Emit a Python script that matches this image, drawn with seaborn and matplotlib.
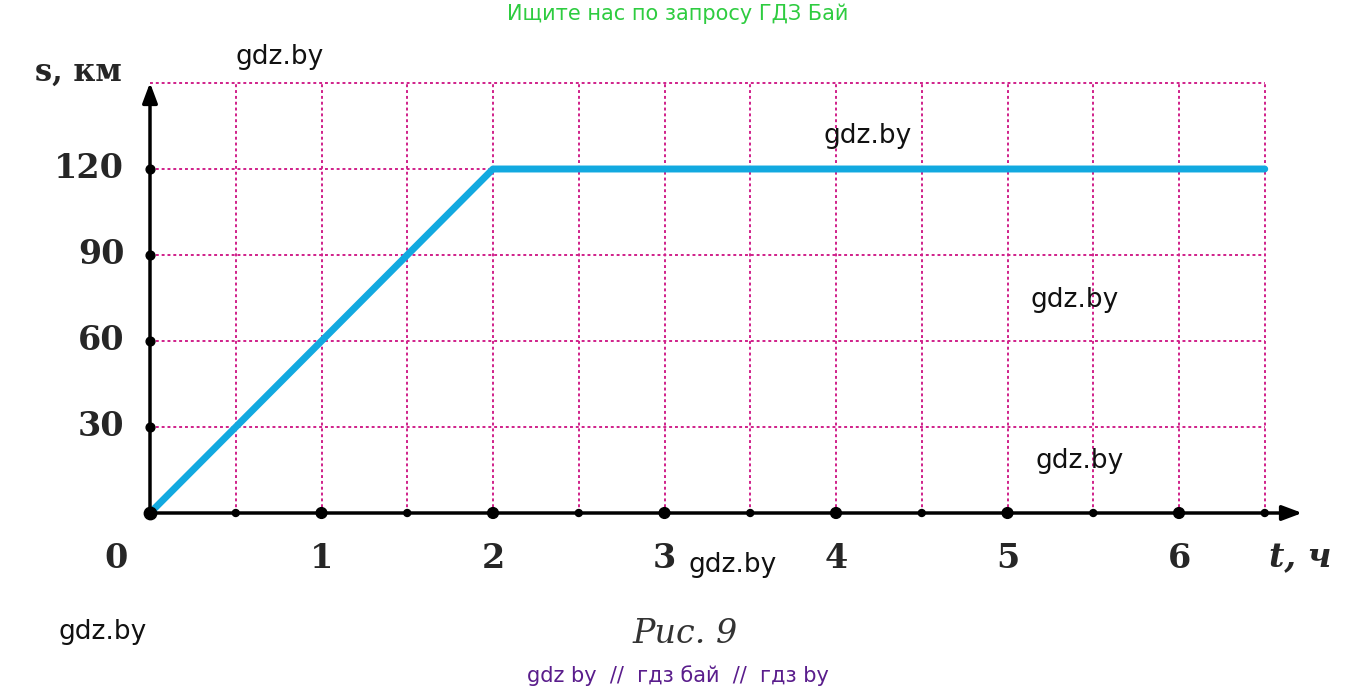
import numpy as np
import pandas as pd
import matplotlib
matplotlib.use("Agg")
import matplotlib.pyplot as plt
import seaborn as sns

# data
t_hours = [0, 2, 6.5]
s_km = [0, 120, 120]
x_grid = [0.5, 1, 1.5, 2, 2.5, 3, 3.5, 4, 4.5, 5, 5.5, 6, 6.5]
y_grid = [30, 60, 90, 120, 150]
x_labels = ["1", "2", "3", "4", "5", "6"]
x_label_pos = [1, 2, 3, 4, 5, 6]
y_labels = ["30", "60", "90", "120"]
y_label_pos = [30, 60, 90, 120]

sns.set_style("white")
plt.rcParams['font.family'] = ['DejaVu Sans']

fig = plt.figure(figsize=(13.55, 6.93), dpi=100)
ax = fig.add_axes([150/1355, 1-513/693, (1305-150)/1355, (513-80)/693])
xmax = (1305-150)/171.5
ymax = (513-80)/86*30
ax.set_xlim(0, xmax)
ax.set_ylim(0, ymax)

grid_kw = dict(color="#d0208a", linestyle=(0, (1.5, 1.5)), linewidth=1.4, zorder=1)
ax.vlines(x_grid, 0, 150, **grid_kw)
ax.hlines(y_grid, 0, 6.5, **grid_kw)

df = pd.DataFrame({"t": t_hours, "s": s_km})
sns.lineplot(data=df, x="t", y="s", ax=ax, color="#12a9e0", linewidth=5, zorder=3)

# axes with arrows
ax.annotate("", xy=(xmax, 0), xytext=(0, 0),
            arrowprops=dict(arrowstyle="-|>,head_length=1.2,head_width=0.45", color="black", lw=2.5), zorder=4)
ax.annotate("", xy=(0, ymax), xytext=(0, 0),
            arrowprops=dict(arrowstyle="-|>,head_length=1.2,head_width=0.45", color="black", lw=2.5), zorder=4)
ax.scatter(x_grid, [0]*len(x_grid), s=[25 if v % 1 == 0.5 else 60 for v in x_grid], color="black", zorder=5, clip_on=False)
ax.scatter([0], [0], s=80, color="black", zorder=5, clip_on=False)
ax.scatter([0]*len(y_label_pos), y_label_pos, s=40, color="black", zorder=5, clip_on=False)

for s in ax.spines.values():
    s.set_visible(False)
ax.set_xticks([])
ax.set_yticks([])
ax.set_xlabel("")
ax.set_ylabel("")

lab = dict(fontsize=24, fontweight="bold", family="DejaVu Serif")
for p, l in zip(x_label_pos, x_labels):
    ax.text(p, -16, l, ha="center", va="center", **lab)
for p, l in zip(y_label_pos, y_labels):
    ax.text(-0.15, p, l, ha="right", va="center", **lab)
ax.text(-0.2, -16, "0", ha="center", va="center", **lab)
fig.text(1300/1355, 1-558/693, "t, ч", ha="center", va="center", fontsize=24, style="italic", fontweight="bold", family="DejaVu Serif")
fig.text(78/1355, 1-72/693, "s, км", ha="center", va="center", fontsize=22, fontweight="bold", family="DejaVu Serif")

fig.text(0.5, 1-14/693, "Ищите нас по запросу ГДЗ Бай", ha="center", va="center", fontsize=15, color="#2ecc40")
fig.text(685/1355, 1-634/693, "Рис. 9", ha="center", va="center", fontsize=24, style="italic", family="DejaVu Serif", color="#333333")
fig.text(0.5, 1-676/693, "gdz by  //  гдз бай  //  гдз by", ha="center", va="center", fontsize=15, color="#5a1d8c")
for x, y in [(280, 57), (868, 136), (1075, 300), (1080, 461), (733, 565), (103, 632)]:
    fig.text(x/1355, 1-y/693, "gdz.by", ha="center", va="center", fontsize=19, color="#111111")

fig.savefig("out.png", dpi=100, facecolor="white")
